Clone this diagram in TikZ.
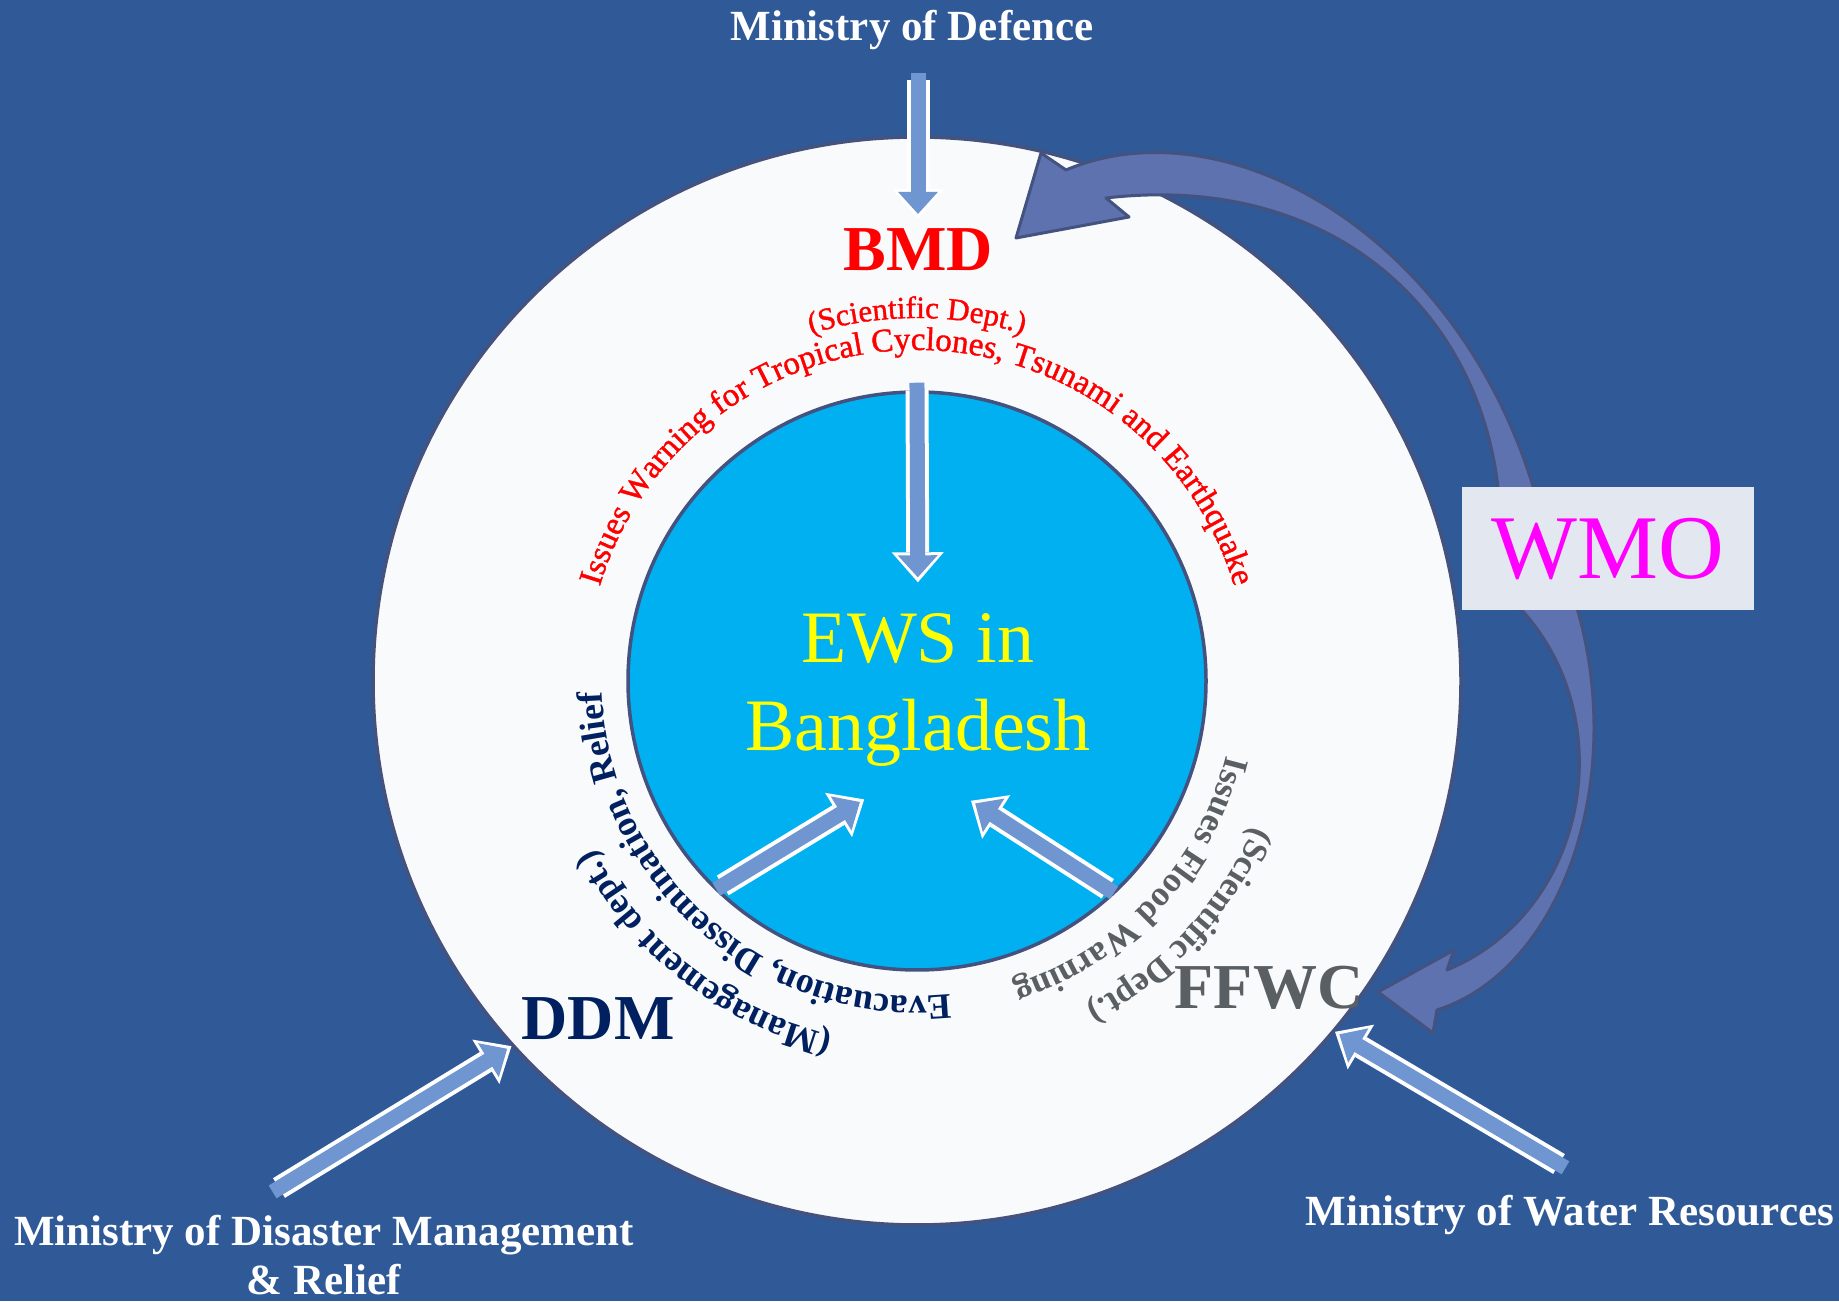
\documentclass[tikz,border=0pt]{standalone}
\usepackage{fontspec}
\setmainfont{Liberation Serif}
\newfontfamily\warnface[FakeBold=1.2]{Liberation Serif}
\usepackage{tikz}
\usetikzlibrary{positioning,arrows.meta,decorations.text}

\definecolor{bgblue}{HTML}{2F5997}
\definecolor{discwhite}{HTML}{F9FAFC}
\definecolor{rimline}{HTML}{44527F}
\definecolor{coreblue}{HTML}{00B0F0}
\definecolor{arrowblue}{HTML}{6F96D0}
\definecolor{linkblue}{HTML}{5F72B0}
\definecolor{wmobox}{HTML}{E3E7EF}
\definecolor{wmopink}{HTML}{FF00FF}
\definecolor{ewsyellow}{HTML}{FFFF00}
\definecolor{ddmnavy}{HTML}{002060}
\definecolor{ffwcgray}{HTML}{595F63}
\definecolor{bmdred}{HTML}{FF0000}

\newcommand{\warnfont}{\warnface\fontsize{33}{36}\selectfont\color{bmdred}}
\newcommand{\deptfont}{\warnface\fontsize{31}{36}\selectfont\color{bmdred}}
\newcommand{\ddmfont}{\fontsize{36}{40}\selectfont\bfseries\color{ddmnavy}}
\newcommand{\ffwcfont}{\fontsize{35}{40}\selectfont\bfseries\color{ffwcgray}}

\tikzset{
  outerdisc/.style={circle, draw=rimline, line width=3.5pt, fill=discwhite, minimum size=1088pt, inner sep=0pt},
  innerdisc/.style={circle, draw=rimline, line width=3.5pt, fill=coreblue, minimum size=578pt, inner sep=0pt},
  ministry/.style={text=white, font=\fontsize{43}{49}\selectfont\bfseries, inner sep=0pt, align=center},
  agency/.style={font=\fontsize{64}{70}\selectfont\bfseries, inner sep=0pt},
  blockarrow/.style={draw=arrowblue, line width=15pt, line cap=rect,
                     -{Triangle[length=22pt, width=40pt, sep=5pt, line width=0pt]},
                     preaction={draw=white, line width=23pt,
                                -{Triangle[length=30pt, width=52pt, line width=0pt]}}}, % white rim
  wmolink/.style={fill=linkblue, draw=rimline, line width=3pt, line join=round},
  arctext/.style={decorate, decoration={text along path, text align=center}},
}

\begin{document}
\begin{tikzpicture}[x=1pt, y=1pt]
  \useasboundingbox (0,0) rectangle (1839,1301);
  \fill[bgblue] (0,0) rectangle (1839,1301);

  \node[outerdisc] (ring) at (917,620) {};

  % curved links from WMO, their ends hidden by the box
  \filldraw[wmolink] (1016,1063) -- (1041,1148) -- (1066,1131)
    .. controls (1230,1200) and (1470,1060) .. (1540,790)
    -- (1500,790)
    .. controls (1490,980) and (1340,1130) .. (1106,1103)
    -- (1129,1084) -- cycle;
  \filldraw[wmolink] (1378,309) -- (1433,268) -- (1437,291)
    .. controls (1560,330) and (1630,520) .. (1575,700)
    -- (1513,700)
    .. controls (1625,590) and (1590,390) .. (1447,331)
    -- (1454,351) -- cycle;

  \node[innerdisc] (core) at (917,620) {};

  \node[ministry, anchor=base] (mod) at (912,1260) {Ministry of Defence};
  \node[ministry, anchor=north] (modmr) at (324,86) {Ministry of Disaster Management\\\& Relief};
  \node[ministry, anchor=base] (mowr) at (1570,75) {Ministry of Water Resources};

  \node[agency, text=bmdred, anchor=base] (bmd) at (918,1030) {BMD};
  \node[agency, text=ddmnavy, anchor=base] (ddm) at (598,261) {DDM};
  \node[agency, text=ffwcgray, anchor=base] (ffwc) at (1269,292) {FFWC};

  \node[text=ewsyellow, font=\fontsize{74}{88}\selectfont, align=center, inner sep=0pt] (ews) at (918,611) {EWS in\\Bangladesh};

  % texts round the core
  \path[arctext, decoration={text={|\warnfont|Issues Warning for Tropical Cyclones, Tsunami and Earthquake}}]
    (core.center) ++(170:331) arc[start angle=170, end angle=10, radius=331];
  \path[arctext, decoration={text={|\deptfont|(Scientific Dept.)}}]
    (core.center) ++(120:363) arc[start angle=120, end angle=60, radius=363];
  \path[arctext, decoration={text={|\ddmfont|Evacuation, Dissemination, Relief}}]
    (core.center) ++(-58:315) arc[start angle=-58, end angle=-204, radius=315];
  \path[arctext, decoration={text={|\ddmfont|(Management dept.)}}]
    (core.center) ++(-88:364) arc[start angle=-88, end angle=-168, radius=364];
  \path[arctext, decoration={text={|\ffwcfont|Issues Flood Warning}}]
    (core.center) ++(0:318) arc[start angle=0, end angle=-86, radius=318];
  \path[arctext, decoration={text={|\ffwcfont|(Scientific Dept.)}}]
    (core.center) ++(-5:367) arc[start angle=-5, end angle=-81, radius=367];

  \coordinate (ddmtail) at (279,113);
  \coordinate (ffwctail) at (1559,137);

  \draw[blockarrow, shorten <=30pt, shorten >=10pt] (mod.south -| bmd.north) -- (bmd.north);
  \draw[blockarrow, shorten >=31pt] (core.north) -- (ews.north);
  \draw[blockarrow, shorten <=9pt, shorten >=63pt] (core.226) -- (ews.south);
  \draw[blockarrow, shorten <=9pt, shorten >=63pt] (core.313) -- (ews.south);
  \draw[blockarrow] (ddmtail) -- (ring.222);
  \draw[blockarrow] (ffwctail) -- (ring.320);

  \node[fill=wmobox, minimum width=292pt, minimum height=123pt, text=wmopink,
        font=\fontsize{91}{100}\selectfont] (wmo) at (1608,752) {WMO};
\end{tikzpicture}
\end{document}
